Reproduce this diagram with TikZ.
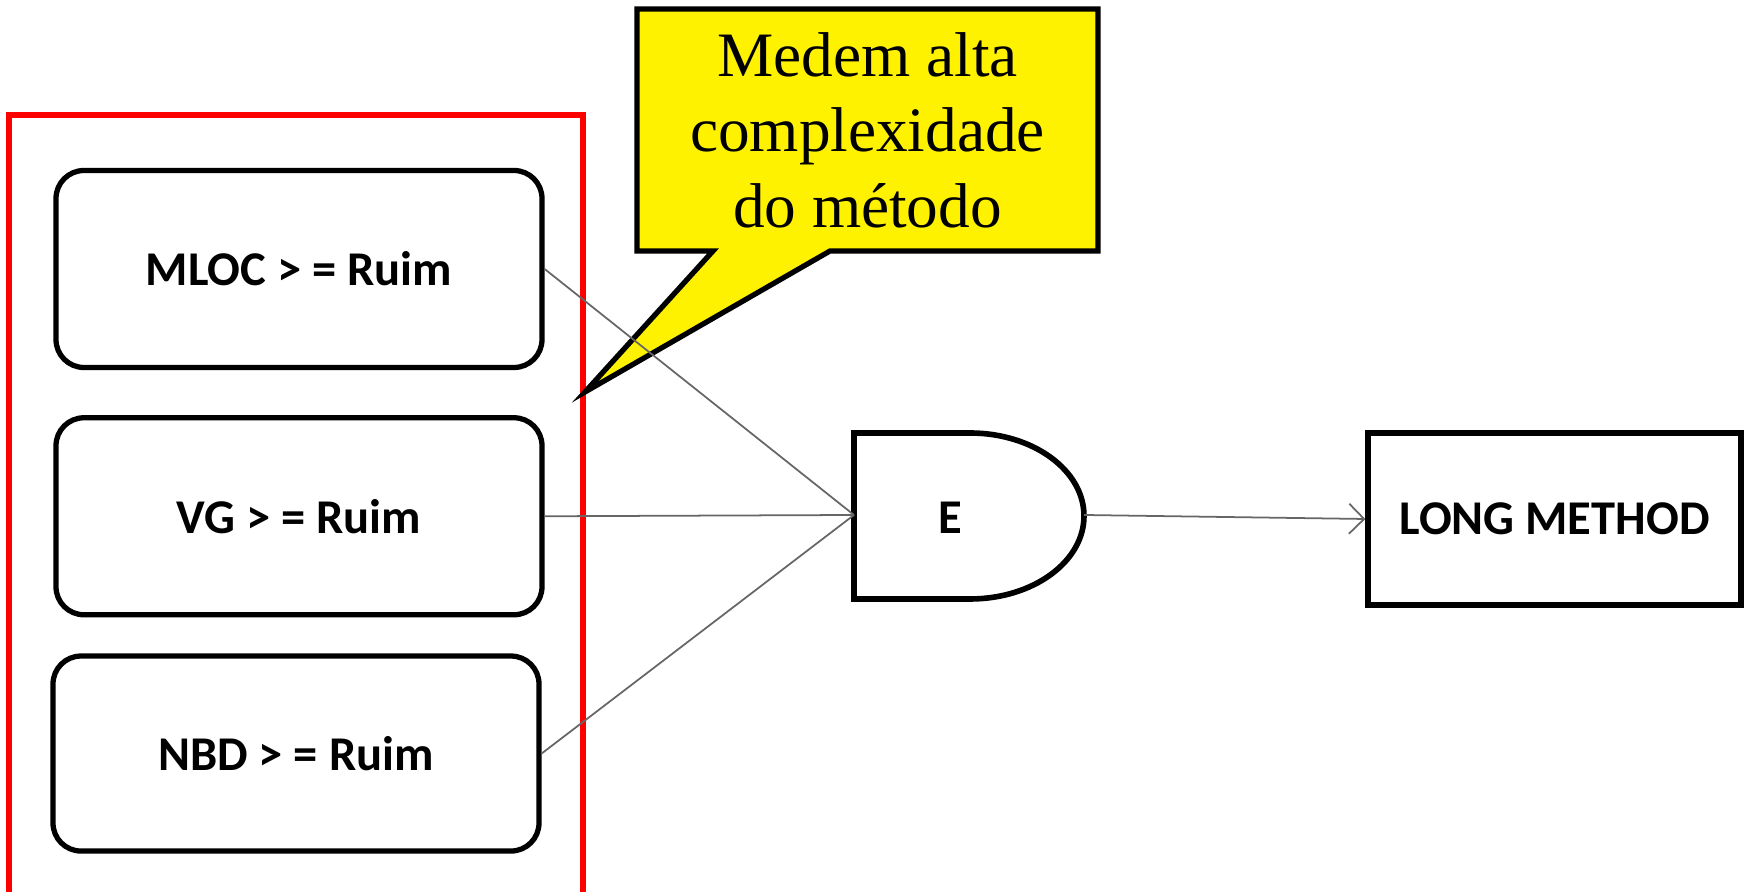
\documentclass[tikz,border=0pt]{standalone}
\usepackage{fontspec}
\setmainfont{Liberation Serif}
\newfontfamily\calibri{Carlito}
\usetikzlibrary{positioning,arrows.meta}

\tikzset{
  cond/.style={draw, line width=1.5pt, rounded corners=0.28cm,
    minimum width=4.86cm, minimum height=1.97cm,
    font=\calibri\bfseries\fontsize{13.8}{16}\selectfont},
  outbox/.style={draw, line width=1.5pt, minimum width=3.73cm, minimum height=1.72cm,
    font=\calibri\bfseries\fontsize{13.8}{16}\selectfont},
  wire/.style={draw=black!60, line width=0.5pt},
}

\begin{document}
\begin{tikzpicture}
  \useasboundingbox (0,0) rectangle (17.48,8.92);

  % Define nodes
  \node[cond] (mloc) at (2.99,6.23) {MLOC > = Ruim};
  \node[cond, below=0.45cm of mloc] (vg) {VG > = Ruim};
  \node[cond, below=0.36cm of vg, xshift=-0.03cm, minimum height=1.95cm] (nbd) {NBD > = Ruim};
  \node[outbox] (lm) at (15.545,3.73) {LONG METHOD};
  \coordinate (andin) at (8.54,3.77);
  \coordinate (andout) at (10.84,3.77);

  % Frame, gate and note
  \draw[red, line width=1.8pt] (0.09,-0.2) |- (5.83,7.77) -- (5.83,-0.2);
  \draw[line width=1.6pt] (8.54,2.93) -- (8.54,4.59) -- (9.70,4.59)
    arc[start angle=90, end angle=-90, x radius=1.14, y radius=0.83] -- cycle;
  \node[font=\calibri\bfseries\fontsize{13.8}{16}\selectfont] (and) at (9.50,3.74) {E};
  \draw[fill=yellow, line width=1.5pt] (6.37,8.83) -- (10.98,8.83) -- (10.98,6.41)
    -- (8.30,6.41) -- (5.85,5.00) -- (7.13,6.41) -- (6.37,6.41) -- cycle;
  \node[align=center, font=\fontsize{18}{21.5}\selectfont] (note) at (8.675,7.62)
    {Medem alta\\complexidade\\do método};

  % Connect the nodes
  \draw[wire] (mloc.east) -- (andin);
  \draw[wire] (vg.east) -- (andin);
  \draw[wire] (nbd.east) -- (andin);
  \draw[wire, -{Straight Barb[length=1.5mm, width=3mm]}] (andout) -- (lm.west);
\end{tikzpicture}
\end{document}
